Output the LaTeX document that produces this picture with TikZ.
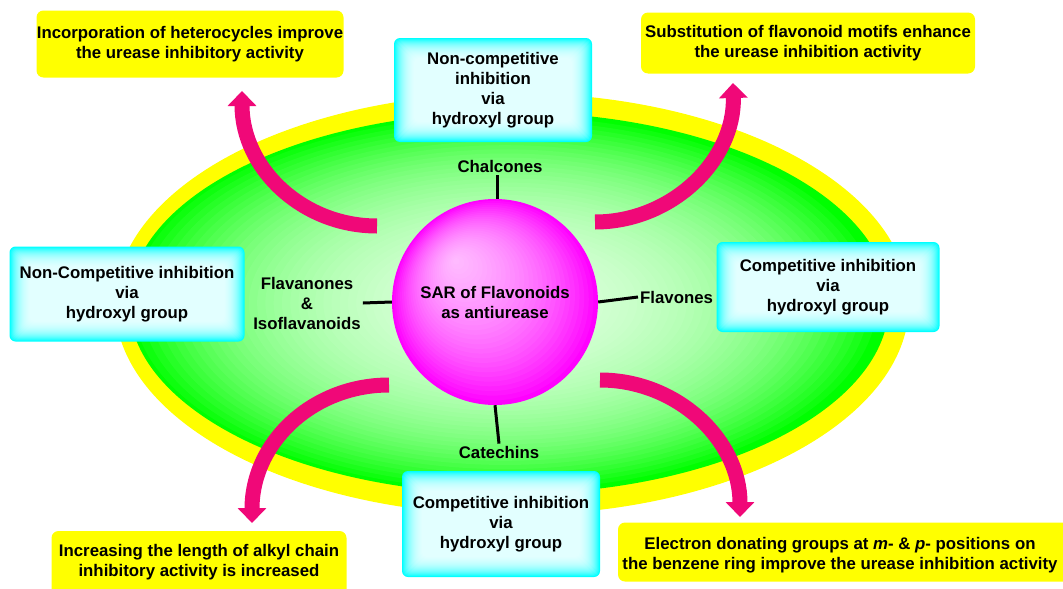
\documentclass[tikz,border=0pt]{standalone}
\usepackage{fontspec}
\setmainfont{Liberation Sans}
\usetikzlibrary{arrows.meta,shapes.geometric}
\definecolor{pinkarrow}{RGB}{240,8,120}
\definecolor{ylw}{RGB}{255,255,0}
\definecolor{grn}{RGB}{0,255,0}
\definecolor{cyn}{RGB}{0,255,255}
\definecolor{mag}{RGB}{255,0,255}
\tikzset{
  txt/.style={font=\fontsize{16.8}{20}\selectfont\bfseries, align=center, text=black},
  ybox/.style={txt, fill=ylw, rounded corners=7pt, inner sep=0pt},
  cbox/.style={txt, fill=cyn, rounded corners=6pt, inner sep=0pt,
    path picture={
      \foreach \d in {1,...,20}{
        \fill[white,opacity=0.11,rounded corners=5pt]
          ([xshift=\d pt,yshift=-\d pt]path picture bounding box.north west) rectangle
          ([xshift=-\d pt,yshift=\d pt]path picture bounding box.south east);
      }
    }},
  lbl/.style={txt, inner sep=2pt},
  spoke/.style={draw=black, line width=3pt},
  parrow/.style={draw=pinkarrow, line width=15pt, -{Triangle[length=15pt,width=28pt]}},
  glow/.style={fill=white, opacity=#1},
}
\begin{document}
\begin{tikzpicture}[x=1pt,y=-1pt]
\useasboundingbox (0,0) rectangle (1063,589);
\clip (0,0) rectangle (1063,589);
\fill[white] (0,0) rectangle (1063,589);
% ellipse field
\fill[ylw] (512,304) ellipse [x radius=397, y radius=211];
\fill[grn] (509,303) ellipse [x radius=380, y radius=191];
\foreach \k in {1,...,45}{
  \pgfmathsetmacro{\s}{1-\k/46}
  \fill[glow=0.055] (505,303) ellipse [x radius={380*\s}, y radius={191*\s}];
}
% sphere
\fill[mag] (495,302) circle [radius=103];
\foreach \k in {1,...,30}{
  \pgfmathsetmacro{\t}{\k/31}
  \fill[glow=0.048] ({495-40*\t},{302-42*\t}) circle [radius={103*(1-\t)}];
}
\node[txt, minimum size=206pt, circle, inner sep=0pt] (sph) at (495,302) {SAR of Flavonoids\\as antiurease};
% labels
\node[lbl] (chal) at (500,166) {Chalcones};
\node[lbl] (cat) at (499,452) {Catechins};
\node[lbl, anchor=west] (flv) at (638,297) {Flavones};
\node[lbl] (flan) at (307,303) {Flavanones\\\&\\Isoflavanoids};
% spokes
\draw[spoke] (497,199) -- (497,175);
\draw[spoke] (sph.south) -- (cat.north);
\draw[spoke] (sph.east) -- (flv.west);
\draw[spoke] (sph.west) -- (flan.east);
% arrows
\coordinate (a1s) at (377,226); \coordinate (a1t) at (242,91);
\coordinate (a2s) at (595,222); \coordinate (a2t) at (733,83);
\coordinate (a3s) at (389,385); \coordinate (a3t) at (252,523);
\coordinate (a4s) at (600,380); \coordinate (a4t) at (740,517);
\draw[parrow] (a1s) .. controls (302,226) and (242,168) .. (a1t);
\draw[parrow] (a2s) .. controls (672,222) and (735,160) .. (a2t);
\draw[parrow] (a3s) .. controls (313,385) and (252,442) .. (a3t);
\draw[parrow] (a4s) .. controls (677,380) and (740,440) .. (a4t);
% cyan boxes
\node[cbox, minimum width=198pt, minimum height=104pt] (ctop) at (493,90) {Non-competitive\\inhibition\\via\\hydroxyl group};
\node[cbox, minimum width=235pt, minimum height=95pt] (cleft) at (127,294) {Non-Competitive inhibition\\via\\hydroxyl group};
\node[cbox, minimum width=223pt, minimum height=90pt] (cright) at (828,287) {Competitive inhibition\\via\\hydroxyl group};
\node[cbox, minimum width=198pt, minimum height=106pt] (cbot) at (501,524) {Competitive inhibition\\via\\hydroxyl group};
% yellow boxes
\node[ybox, minimum width=307pt, minimum height=67pt] (ytl) at (190,44) {Incorporation of heterocycles improve\\the urease inhibitory activity};
\node[ybox, minimum width=334pt, minimum height=61pt] (ytr) at (808,43) {Substitution of flavonoid motifs enhance\\the urease inhibition activity};
\node[ybox, minimum width=295pt, minimum height=70pt] (ybl) at (199,566) {};
\node[txt] (ybltxt) at (199,562) {Increasing the length of alkyl chain\\inhibitory activity is increased};
\node[ybox, minimum width=452pt, minimum height=59pt] (ybr) at (844,552) {};
\node[txt] (ybrtxt) at (840,555) {Electron donating groups at \textit{m}- \& \textit{p}- positions on\\the benzene ring improve the urease inhibition activity};
\end{tikzpicture}
\end{document}
